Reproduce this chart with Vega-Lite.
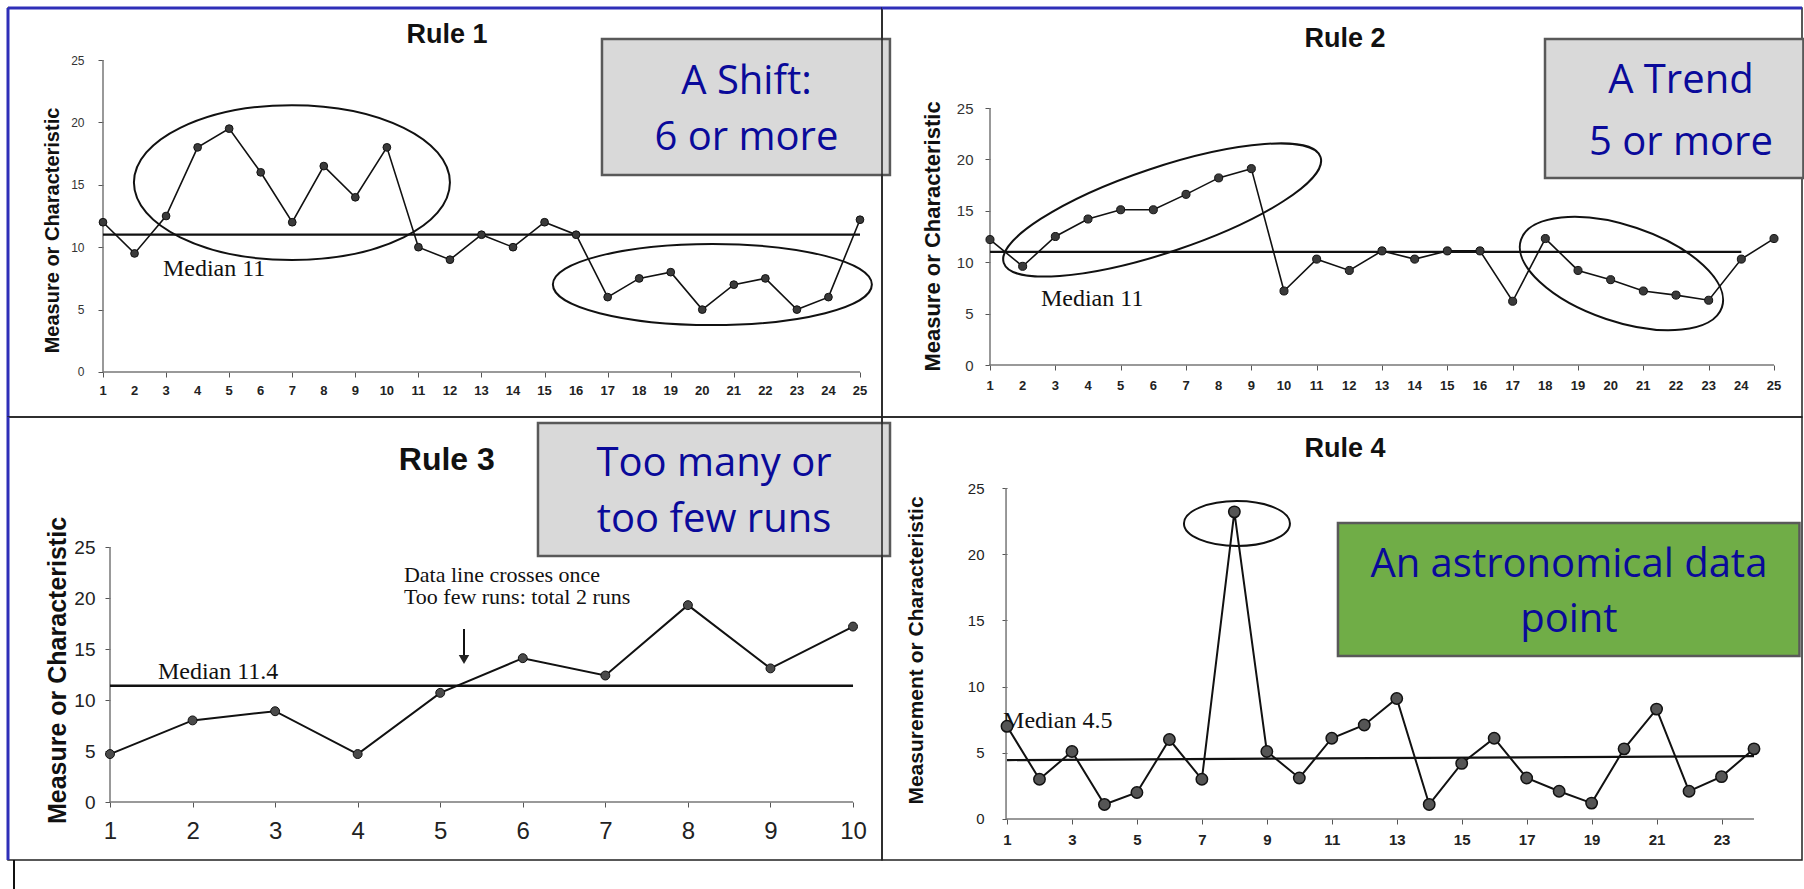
{
  "$schema": "https://vega.github.io/schema/vega-lite/v6.json",
  "autosize": {"type": "pad"},
  "padding": {"left": 5, "top": 5, "right": 0, "bottom": 0},
  "background": "white",
  "config": {
    "view": {"stroke": "#222", "strokeWidth": 1.5},
    "axis": {"domain": false, "grid": false, "tickColor": "#555", "tickSize": 5, "labelFont": "Liberation Sans", "labelColor": "#222", "labelFlush": false, "labelOverlap": false, "titleFont": "Liberation Sans", "titleFontWeight": "bold", "titleColor": "#111"},
    "axisLeft": {"titleAngle": -90, "titleBaseline": "bottom", "titleAlign": "center"},
    "text": {"font": "Liberation Sans"}
  },
  "datasets": {
    "r1": [
      {"t": 1, "v": 12}, {"t": 2, "v": 9.5}, {"t": 3, "v": 12.5}, {"t": 4, "v": 18}, {"t": 5, "v": 19.5},
      {"t": 6, "v": 16}, {"t": 7, "v": 12}, {"t": 8, "v": 16.5}, {"t": 9, "v": 14}, {"t": 10, "v": 18},
      {"t": 11, "v": 10}, {"t": 12, "v": 9}, {"t": 13, "v": 11}, {"t": 14, "v": 10}, {"t": 15, "v": 12},
      {"t": 16, "v": 11}, {"t": 17, "v": 6}, {"t": 18, "v": 7.5}, {"t": 19, "v": 8}, {"t": 20, "v": 5},
      {"t": 21, "v": 7}, {"t": 22, "v": 7.5}, {"t": 23, "v": 5}, {"t": 24, "v": 6}, {"t": 25, "v": 12.2}
    ],
    "r2": [
      {"t": 1, "v": 12.2}, {"t": 2, "v": 9.6}, {"t": 3, "v": 12.5}, {"t": 4, "v": 14.2}, {"t": 5, "v": 15.1},
      {"t": 6, "v": 15.1}, {"t": 7, "v": 16.6}, {"t": 8, "v": 18.2}, {"t": 9, "v": 19.1}, {"t": 10, "v": 7.2},
      {"t": 11, "v": 10.3}, {"t": 12, "v": 9.2}, {"t": 13, "v": 11.1}, {"t": 14, "v": 10.3}, {"t": 15, "v": 11.1},
      {"t": 16, "v": 11.1}, {"t": 17, "v": 6.2}, {"t": 18, "v": 12.3}, {"t": 19, "v": 9.2}, {"t": 20, "v": 8.3},
      {"t": 21, "v": 7.2}, {"t": 22, "v": 6.8}, {"t": 23, "v": 6.3}, {"t": 24, "v": 10.3}, {"t": 25, "v": 12.3}
    ],
    "r3": [
      {"t": 1, "v": 4.7}, {"t": 2, "v": 8.0}, {"t": 3, "v": 8.9}, {"t": 4, "v": 4.7}, {"t": 5, "v": 10.7},
      {"t": 6, "v": 14.1}, {"t": 7, "v": 12.4}, {"t": 8, "v": 19.3}, {"t": 9, "v": 13.1}, {"t": 10, "v": 17.2}
    ],
    "r4": [
      {"t": 1, "v": 7.0}, {"t": 2, "v": 3.0}, {"t": 3, "v": 5.1}, {"t": 4, "v": 1.1}, {"t": 5, "v": 2.0},
      {"t": 6, "v": 6.0}, {"t": 7, "v": 3.0}, {"t": 8, "v": 23.2}, {"t": 9, "v": 5.1}, {"t": 10, "v": 3.1},
      {"t": 11, "v": 6.1}, {"t": 12, "v": 7.1}, {"t": 13, "v": 9.1}, {"t": 14, "v": 1.1}, {"t": 15, "v": 4.2},
      {"t": 16, "v": 6.1}, {"t": 17, "v": 3.1}, {"t": 18, "v": 2.1}, {"t": 19, "v": 1.2}, {"t": 20, "v": 5.3},
      {"t": 21, "v": 8.3}, {"t": 22, "v": 2.1}, {"t": 23, "v": 3.2}, {"t": 24, "v": 5.3}
    ]
  },
  "columns": 2,
  "spacing": 0,
  "bounds": "flush",
  "concat": [
    {
      "width": 874,
      "height": 409,
      "data": {"values": [{}]},
      "layer": [
        {
          "data": {"name": "r1"},
          "mark": {"type": "line", "color": "#111", "strokeWidth": 1.6},
          "encoding": {
            "x": {"field": "t", "type": "quantitative", "scale": {"domain": [-2.012, 25.698], "nice": false, "zero": false},
              "axis": {"values": [1,2,3,4,5,6,7,8,9,10,11,12,13,14,15,16,17,18,19,20,21,22,23,24,25], "labels": false, "offset": -45, "title": null}},
            "y": {"field": "v", "type": "quantitative", "scale": {"domain": [-3.606, 29.167], "nice": false, "zero": false},
              "axis": {"values": [0,5,10,15,20,25], "labelOverlap": false, "offset": -95, "labelFontSize": 12, "labelColor": "#333", "labelPadding": 14, "title": "Measure or Characteristic", "titleFontSize": 20, "titleX": -41, "titleY": 222}}
          }
        },
        {
          "data": {"name": "r1"},
          "mark": {"type": "text", "fontSize": 13, "fontWeight": "bold", "color": "#222", "align": "center", "baseline": "top"},
          "encoding": {"x": {"field": "t", "type": "quantitative"}, "y": {"datum": -1.04}, "text": {"field": "t", "type": "quantitative", "format": "d"}}
        },
        {
          "mark": {"type": "rule", "color": "#777", "strokeWidth": 1.5},
          "encoding": {"x": {"datum": 1}, "x2": {"datum": 25}, "y": {"datum": 0}}
        },
        {
          "mark": {"type": "rule", "color": "#777", "strokeWidth": 1.5},
          "encoding": {"x": {"datum": 1}, "y": {"datum": 0}, "y2": {"datum": 25}}
        },
        {
          "mark": {"type": "rule", "color": "#111", "strokeWidth": 2.2},
          "encoding": {"x": {"datum": 1}, "x2": {"datum": 25}, "y": {"datum": 11}}
        },
        {
          "data": {"name": "r1"},
          "mark": {"type": "point", "filled": true, "fill": "#3a3a3a", "stroke": "#111", "strokeWidth": 1, "size": 60, "opacity": 1},
          "encoding": {"x": {"field": "t", "type": "quantitative"}, "y": {"field": "v", "type": "quantitative"}}
        },
        {
          "mark": {"type": "point", "filled": false, "stroke": "#111", "strokeWidth": 2, "opacity": 1, "size": 99856,
            "shape": "M 1 0 C 1 0.2706 0.5523 0.49 0 0.49 C -0.5523 0.49 -1 0.2706 -1 0 C -1 -0.2706 -0.5523 -0.49 0 -0.49 C 0.5523 -0.49 1 -0.2706 1 0 Z"},
          "encoding": {"x": {"datum": 6.99}, "y": {"datum": 15.18}}
        },
        {
          "mark": {"type": "point", "filled": false, "stroke": "#111", "strokeWidth": 2, "opacity": 1, "size": 101761,
            "shape": "M 1 0 C 1 0.1403 0.5523 0.254 0 0.254 C -0.5523 0.254 -1 0.1403 -1 0 C -1 -0.1403 -0.5523 -0.254 0 -0.254 C 0.5523 -0.254 1 -0.1403 1 0 Z"},
          "encoding": {"x": {"datum": 20.32}, "y": {"datum": 7.01}}
        },
        {
          "mark": {"type": "text", "text": "Rule 1", "fontSize": 27, "fontWeight": "bold", "color": "#111", "align": "center", "baseline": "middle"},
          "encoding": {"x": {"datum": 11.906}, "y": {"datum": 27.0}}
        },
        {
          "mark": {"type": "text", "text": "Median 11", "font": "Liberation Serif", "fontSize": 24, "color": "#111", "align": "left", "baseline": "middle"},
          "encoding": {"x": {"datum": 2.9}, "y": {"datum": 8.25}}
        },
        {
          "mark": {"type": "rect", "fill": "#d9d9d9", "stroke": "#595959", "strokeWidth": 2.5},
          "encoding": {"x": {"datum": 16.82}, "x2": {"datum": 25.95}, "y": {"datum": 26.68}, "y2": {"datum": 15.785}}
        },
        {
          "mark": {"type": "text", "text": ["A Shift:", "6 or more"], "font": "Open Sans", "fontSize": 40, "lineHeight": 56, "color": "#0a0a9a", "align": "center", "baseline": "alphabetic"},
          "encoding": {"x": {"datum": 21.4}, "y": {"datum": 22.28}}
        },
        {
          "mark": {"type": "rule", "color": "#2e2eb8", "strokeWidth": 3},
          "encoding": {"x": {"datum": -2.012}, "x2": {"datum": 25.698}, "y": {"datum": 29.167}}
        },
        {
          "mark": {"type": "rule", "color": "#2e2eb8", "strokeWidth": 3},
          "encoding": {"x": {"datum": -2.012}, "y": {"datum": -3.606}, "y2": {"datum": 29.167}}
        }
      ]
    },
    {
      "width": 920,
      "height": 409,
      "data": {"values": [{}]},
      "layer": [
        {
          "data": {"name": "r2"},
          "mark": {"type": "line", "color": "#111", "strokeWidth": 1.6},
          "encoding": {
            "x": {"field": "t", "type": "quantitative", "scale": {"domain": [-2.306, 25.857], "nice": false, "zero": false},
              "axis": {"values": [1,2,3,4,5,6,7,8,9,10,11,12,13,14,15,16,17,18,19,20,21,22,23,24,25], "labels": false, "offset": -52, "title": null}},
            "y": {"field": "v", "type": "quantitative", "scale": {"domain": [-5.058, 34.728], "nice": false, "zero": false},
              "axis": {"values": [0,5,10,15,20,25], "labelOverlap": false, "offset": -108, "labelFontSize": 15, "labelColor": "#333", "labelPadding": 12, "title": "Measure or Characteristic", "titleFontSize": 22, "titleX": -46, "titleY": 228}}
          }
        },
        {
          "data": {"name": "r2"},
          "mark": {"type": "text", "fontSize": 13, "fontWeight": "bold", "color": "#222", "align": "center", "baseline": "top"},
          "encoding": {"x": {"field": "t", "type": "quantitative"}, "y": {"datum": -1.46}, "text": {"field": "t", "type": "quantitative", "format": "d"}}
        },
        {
          "mark": {"type": "rule", "color": "#777", "strokeWidth": 1.5},
          "encoding": {"x": {"datum": 0.97}, "x2": {"datum": 25}, "y": {"datum": 0}}
        },
        {
          "mark": {"type": "rule", "color": "#777", "strokeWidth": 1.5},
          "encoding": {"x": {"datum": 1}, "y": {"datum": 0}, "y2": {"datum": 25}}
        },
        {
          "mark": {"type": "rule", "color": "#111", "strokeWidth": 2.2},
          "encoding": {"x": {"datum": 1}, "x2": {"datum": 24}, "y": {"datum": 11}}
        },
        {
          "data": {"name": "r2"},
          "mark": {"type": "point", "filled": true, "fill": "#3a3a3a", "stroke": "#111", "strokeWidth": 1, "size": 65, "opacity": 1},
          "encoding": {"x": {"field": "t", "type": "quantitative"}, "y": {"field": "v", "type": "quantitative"}}
        },
        {
          "mark": {"type": "point", "filled": false, "stroke": "#111", "strokeWidth": 2, "opacity": 1, "size": 111556, "angle": -18.5,
            "shape": "M 1 0 C 1 0.1406 0.5523 0.2545 0 0.2545 C -0.5523 0.2545 -1 0.1406 -1 0 C -1 -0.1406 -0.5523 -0.2545 0 -0.2545 C 0.5523 -0.2545 1 -0.1406 1 0 Z"},
          "encoding": {"x": {"datum": 6.27}, "y": {"datum": 15.08}}
        },
        {
          "mark": {"type": "point", "filled": false, "stroke": "#111", "strokeWidth": 2, "opacity": 1, "size": 44944, "angle": 18.6,
            "shape": "M 1 0 C 1 0.2501 0.5523 0.4528 0 0.4528 C -0.5523 0.4528 -1 0.2501 -1 0 C -1 -0.2501 -0.5523 -0.4528 0 -0.4528 C 0.5523 -0.4528 1 -0.2501 1 0 Z"},
          "encoding": {"x": {"datum": 20.33}, "y": {"datum": 8.9}}
        },
        {
          "mark": {"type": "text", "text": "Rule 2", "fontSize": 27, "fontWeight": "bold", "color": "#111", "align": "center", "baseline": "middle"},
          "encoding": {"x": {"datum": 11.87}, "y": {"datum": 31.7}}
        },
        {
          "mark": {"type": "text", "text": "Median 11", "font": "Liberation Serif", "fontSize": 24, "color": "#111", "align": "left", "baseline": "middle"},
          "encoding": {"x": {"datum": 2.56}, "y": {"datum": 6.4}}
        },
        {
          "mark": {"type": "rect", "fill": "#d9d9d9", "stroke": "#595959", "strokeWidth": 2.5},
          "encoding": {"x": {"datum": 17.99}, "x2": {"datum": 25.9}, "y": {"datum": 31.71}, "y2": {"datum": 18.19}}
        },
        {
          "mark": {"type": "text", "text": ["A Trend", "5 or more"], "font": "Open Sans", "fontSize": 40, "lineHeight": 62, "color": "#0a0a9a", "align": "center", "baseline": "alphabetic"},
          "encoding": {"x": {"datum": 22.15}, "y": {"datum": 26.46}}
        },
        {
          "mark": {"type": "rule", "color": "#2e2eb8", "strokeWidth": 3},
          "encoding": {"x": {"datum": -2.306}, "x2": {"datum": 25.857}, "y": {"datum": 34.728}}
        }
      ]
    },
    {
      "width": 874,
      "height": 443,
      "data": {"values": [{}]},
      "layer": [
        {
          "data": {"name": "r3"},
          "mark": {"type": "line", "color": "#111", "strokeWidth": 2},
          "encoding": {
            "x": {"field": "t", "type": "quantitative", "scale": {"domain": [-0.2355, 10.351], "nice": false, "zero": false},
              "axis": {"values": [1,2,3,4,5,6,7,8,9,10], "format": "d", "labelOverlap": false, "offset": -58, "labelFontSize": 24, "labelPadding": 12, "title": null}},
            "y": {"field": "v", "type": "quantitative", "scale": {"domain": [-5.686, 37.745], "nice": false, "zero": false},
              "axis": {"values": [0,5,10,15,20,25], "labelOverlap": false, "offset": -102, "labelFontSize": 19, "labelPadding": 10, "title": "Measure or Characteristic", "titleFontSize": 25, "titleX": -40, "titleY": 253}}
          }
        },
        {
          "mark": {"type": "rule", "color": "#777", "strokeWidth": 1.5},
          "encoding": {"x": {"datum": 1}, "x2": {"datum": 10}, "y": {"datum": 0}}
        },
        {
          "mark": {"type": "rule", "color": "#777", "strokeWidth": 1.5},
          "encoding": {"x": {"datum": 1}, "y": {"datum": 0}, "y2": {"datum": 25}}
        },
        {
          "mark": {"type": "rule", "color": "#111", "strokeWidth": 2.5},
          "encoding": {"x": {"datum": 1}, "x2": {"datum": 10}, "y": {"datum": 11.4}}
        },
        {
          "data": {"name": "r3"},
          "mark": {"type": "point", "filled": true, "fill": "#4a4a4a", "stroke": "#111", "strokeWidth": 1, "size": 80, "opacity": 1},
          "encoding": {"x": {"field": "t", "type": "quantitative"}, "y": {"field": "v", "type": "quantitative"}}
        },
        {
          "mark": {"type": "rule", "color": "#111", "strokeWidth": 2},
          "encoding": {"x": {"datum": 5.288}, "y": {"datum": 16.96}, "y2": {"datum": 14.2}}
        },
        {
          "mark": {"type": "point", "shape": "triangle-down", "filled": true, "color": "#222", "size": 110, "opacity": 1},
          "encoding": {"x": {"datum": 5.288}, "y": {"datum": 13.97}}
        },
        {
          "mark": {"type": "text", "text": "Rule 3", "fontSize": 32, "fontWeight": "bold", "color": "#111", "align": "center", "baseline": "middle"},
          "encoding": {"x": {"datum": 5.08}, "y": {"datum": 33.5}}
        },
        {
          "mark": {"type": "text", "text": "Median 11.4", "font": "Liberation Serif", "fontSize": 24, "color": "#111", "align": "left", "baseline": "middle"},
          "encoding": {"x": {"datum": 1.58}, "y": {"datum": 12.7}}
        },
        {
          "mark": {"type": "text", "text": ["Data line crosses once", "Too few runs: total 2 runs"], "font": "Liberation Serif", "fontSize": 22, "lineHeight": 22, "color": "#111", "align": "left", "baseline": "middle"},
          "encoding": {"x": {"datum": 4.56}, "y": {"datum": 22.3}}
        },
        {
          "mark": {"type": "rect", "fill": "#d9d9d9", "stroke": "#595959", "strokeWidth": 2.5},
          "encoding": {"x": {"datum": 6.184}, "x2": {"datum": 10.448}, "y": {"datum": 37.16}, "y2": {"datum": 24.12}}
        },
        {
          "mark": {"type": "text", "text": ["Too many or", "too few runs"], "font": "Open Sans", "fontSize": 40, "lineHeight": 56, "color": "#0a0a9a", "align": "center", "baseline": "alphabetic"},
          "encoding": {"x": {"datum": 8.316}, "y": {"datum": 31.96}}
        },
        {
          "mark": {"type": "rule", "color": "#2e2eb8", "strokeWidth": 3},
          "encoding": {"x": {"datum": -0.2355}, "y": {"datum": -5.686}, "y2": {"datum": 37.745}}
        },
        {
          "mark": {"type": "rule", "color": "#111", "strokeWidth": 2},
          "encoding": {"x": {"datum": -0.163}, "y": {"datum": -5.686}, "y2": {"datum": -8.6}}
        }
      ]
    },
    {
      "width": 920,
      "height": 443,
      "data": {"values": [{}]},
      "layer": [
        {
          "data": {"name": "r4"},
          "mark": {"type": "line", "color": "#111", "strokeWidth": 2},
          "encoding": {
            "x": {"field": "t", "type": "quantitative", "scale": {"domain": [-2.849, 25.478], "nice": false, "zero": false},
              "axis": {"values": [1,2,3,4,5,6,7,8,9,10,11,12,13,14,15,16,17,18,19,20,21,22,23,24], "format": "d", "labelOverlap": false, "labelExpr": "datum.value % 2 === 1 ? datum.label : ''", "offset": -41, "labelFontSize": 15, "labelFontWeight": "bold", "labelPadding": 8, "title": null}},
            "y": {"field": "v", "type": "quantitative", "scale": {"domain": [-3.097, 30.363], "nice": false, "zero": false},
              "axis": {"values": [0,5,10,15,20,25], "labelOverlap": false, "offset": -125, "labelFontSize": 15, "labelPadding": 18, "title": "Measurement or Characteristic", "titleFontSize": 21, "titleX": -81, "titleY": 233}}
          }
        },
        {
          "mark": {"type": "rule", "color": "#777", "strokeWidth": 1.5},
          "encoding": {"x": {"datum": 0.97}, "x2": {"datum": 24}, "y": {"datum": 0}}
        },
        {
          "mark": {"type": "rule", "color": "#777", "strokeWidth": 1.5},
          "encoding": {"x": {"datum": 0.97}, "y": {"datum": 0}, "y2": {"datum": 25}}
        },
        {
          "mark": {"type": "rule", "color": "#111", "strokeWidth": 2.2},
          "encoding": {"x": {"datum": 1}, "x2": {"datum": 24}, "y": {"datum": 4.45}, "y2": {"datum": 4.75}}
        },
        {
          "mark": {"type": "text", "text": "Median 4.5", "font": "Liberation Serif", "fontSize": 24, "color": "#111", "align": "left", "baseline": "middle"},
          "encoding": {"x": {"datum": 0.88}, "y": {"datum": 7.4}}
        },
        {
          "data": {"name": "r4"},
          "mark": {"type": "point", "filled": true, "fill": "#555", "stroke": "#111", "strokeWidth": 1.5, "size": 130, "opacity": 1},
          "encoding": {"x": {"field": "t", "type": "quantitative"}, "y": {"field": "v", "type": "quantitative"}}
        },
        {
          "mark": {"type": "point", "filled": false, "stroke": "#111", "strokeWidth": 2, "opacity": 1, "size": 11236,
            "shape": "M 1 0 C 1 0.2345 0.5523 0.4245 0 0.4245 C -0.5523 0.4245 -1 0.2345 -1 0 C -1 -0.2345 -0.5523 -0.4245 0 -0.4245 C 0.5523 -0.4245 1 -0.2345 1 0 Z"},
          "encoding": {"x": {"datum": 8.08}, "y": {"datum": 22.32}}
        },
        {
          "mark": {"type": "text", "text": "Rule 4", "fontSize": 27, "fontWeight": "bold", "color": "#111", "align": "center", "baseline": "middle"},
          "encoding": {"x": {"datum": 11.41}, "y": {"datum": 27.95}}
        },
        {
          "mark": {"type": "rect", "fill": "#70ad47", "stroke": "#595959", "strokeWidth": 2.5},
          "encoding": {"x": {"datum": 11.19}, "x2": {"datum": 25.4}, "y": {"datum": 22.36}, "y2": {"datum": 12.31}}
        },
        {
          "mark": {"type": "text", "text": ["An astronomical data", "point"], "font": "Open Sans", "fontSize": 40, "lineHeight": 55, "color": "#0a0a9a", "align": "center", "baseline": "alphabetic"},
          "encoding": {"x": {"datum": 18.3}, "y": {"datum": 18.28}}
        }
      ]
    }
  ]
}
